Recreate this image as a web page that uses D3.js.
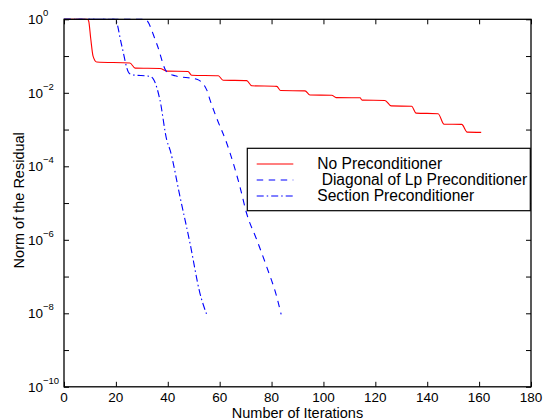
<!DOCTYPE html>
<html>
<head>
<meta charset="utf-8">
<script src="https://cdn.jsdelivr.net/npm/d3@7"></script>
<style>
  body { margin: 0; background: #fff; }
  svg { display: block; font-family: "Liberation Sans", Arial, sans-serif; }
  .legend-label { white-space: pre; }
</style>
</head>
<body>
<div id="wrapper"></div>
<script>
// 1. Data

const noPrecondIter = [0, 9, 9.5, 10.3, 11.2, 12.6, 25.4, 27.4, 37, 39.6, 47.8, 49.2, 59.5,
  61.3, 70.4, 72.4, 82, 83.5, 92.9, 94.8, 103.2, 104.9, 114.1, 114.9, 123.7, 126.1, 134,
  135.7, 144.2, 146.5, 153.3, 155.4, 160.8];
const noPrecondResidual = [1, 1, 0.9, 0.3, 0.1, 0.069, 0.065, 0.047, 0.046, 0.039, 0.038, 0.030, 0.029,
  0.022, 0.0215, 0.0155, 0.015, 0.0115, 0.0113, 0.0087, 0.0086, 0.0074, 0.0073, 0.0063, 0.0062, 0.0044, 0.0043,
  0.0028, 0.0027, 0.0014, 0.00138, 0.00085, 0.00084];

const diagonalIter = [0, 31.2, 35.7, 39.6, 42.8, 51.2, 55, 56.3, 58.9, 62.7, 67.8, 70.4, 74.3,
  78.1, 82, 83.7];
const diagonalResidual = [1, 1, 0.22, 0.037, 0.029, 0.0234, 0.012, 0.0063, 0.002, 4.3e-4, 2.8e-5,
  5.2e-6, 1e-6, 1.86e-7, 2.8e-8, 9.3e-9];

const sectionIter = [0, 19.7, 22.2, 24.8, 26.1, 33.2, 34.7, 37, 39.6, 40.9, 44.7, 48.6, 52.4, 55];
const sectionResidual = [1, 1, 0.2, 0.037, 0.031, 0.028, 0.022, 0.0063, 5.2e-4, 2.75e-4, 1.5e-5,
  7.9e-7, 3.5e-8, 9.3e-9];

const xTicks = [0, 20, 40, 60, 80, 100, 120, 140, 160, 180];
const yTickExponents = [0, -1, -2, -3, -4, -5, -6, -7, -8, -9, -10];
const yLabelExponents = [0, -2, -4, -6, -8, -10];

const seriesNames = ["No Preconditioner", " Diagonal of Lp Preconditioner", "Section Preconditioner"];

// 2. Dimensions

const dimensions = {
  width: 548,
  height: 419,
  margin: { top: 19.3, right: 17, bottom: 32.2, left: 64 },
};
dimensions.boundedWidth = dimensions.width - dimensions.margin.left - dimensions.margin.right;
dimensions.boundedHeight = dimensions.height - dimensions.margin.top - dimensions.margin.bottom;

// 3. Canvas

const wrapper = d3.select("#wrapper")
  .append("svg")
    .attr("width", dimensions.width)
    .attr("height", dimensions.height);

const bounds = wrapper.append("g")
  .attr("transform", `translate(${dimensions.margin.left},${dimensions.margin.top})`);

// 4. Scales

const xScale = d3.scaleLinear()
  .domain([0, 180])
  .range([0, dimensions.boundedWidth]);

const yScale = d3.scaleLog()
  .domain([1e-10, 1])
  .range([dimensions.boundedHeight, 0]);

// 5. Draw data

const series = [
  { name: seriesNames[0], x: noPrecondIter, y: noPrecondResidual, color: "#ff0000", dash: null },
  { name: seriesNames[1], x: diagonalIter, y: diagonalResidual, color: "#0000ff", dash: "6.5,5.5" },
  { name: seriesNames[2], x: sectionIter, y: sectionResidual, color: "#0000ff", dash: "7,3,1.5,3" },
];

const lineGenerator = d3.line()
  .x(d => xScale(d[0]))
  .y(d => yScale(d[1]))
  .curve(d3.curveMonotoneX);

bounds.selectAll(".series")
  .data(series)
  .join("path")
    .attr("class", "series")
    .attr("d", s => lineGenerator(d3.zip(s.x, s.y)))
    .attr("fill", "none")
    .attr("stroke", s => s.color)
    .attr("stroke-width", 1.1)
    .attr("stroke-dasharray", s => s.dash);

// 6. Axes (ticks point inward, box on all four sides)

const tickLen = 5;
const yTickValues = yTickExponents.map(e => Math.pow(10, e));

const styleAxis = g => {
  g.select(".domain").remove();
  g.selectAll(".tick line").attr("stroke", "#000").attr("stroke-width", 1);
  g.selectAll(".tick text").remove();
};

bounds.append("g")
  .attr("transform", `translate(0,${dimensions.boundedHeight})`)
  .call(d3.axisBottom(xScale).tickValues(xTicks).tickSize(-tickLen))
  .call(styleAxis);
bounds.append("g")
  .call(d3.axisTop(xScale).tickValues(xTicks).tickSize(-tickLen))
  .call(styleAxis);
bounds.append("g")
  .call(d3.axisLeft(yScale).tickValues(yTickValues).tickSize(-tickLen))
  .call(styleAxis);
bounds.append("g")
  .attr("transform", `translate(${dimensions.boundedWidth},0)`)
  .call(d3.axisRight(yScale).tickValues(yTickValues).tickSize(-tickLen))
  .call(styleAxis);

bounds.append("rect")
  .attr("width", dimensions.boundedWidth)
  .attr("height", dimensions.boundedHeight)
  .attr("fill", "none")
  .attr("stroke", "#000")
  .attr("stroke-width", 1.3);

// tick labels
bounds.selectAll(".x-label")
  .data(xTicks)
  .join("text")
    .attr("class", "x-label")
    .attr("x", d => xScale(d))
    .attr("y", dimensions.boundedHeight + 15)
    .attr("text-anchor", "middle")
    .style("font-size", "13.5px")
    .text(d => d);

const yLabels = bounds.selectAll(".y-label")
  .data(yLabelExponents)
  .join("text")
    .attr("class", "y-label")
    .attr("x", -36)
    .attr("y", d => yScale(Math.pow(10, d)) + 5)
    .style("font-size", "13.5px");
yLabels.append("tspan").text("10");
yLabels.append("tspan")
  .attr("dy", -8)
  .style("font-size", "9.5px")
  .text(d => d === 0 ? "0" : `\u2212${-d}`);

// axis titles
wrapper.append("text")
  .attr("x", dimensions.margin.left + dimensions.boundedWidth / 2)
  .attr("y", 417.5)
  .attr("text-anchor", "middle")
  .style("font-size", "14.5px")
  .text("Number of Iterations");

wrapper.append("text")
  .attr("transform", `translate(24,${dimensions.margin.top + 181}) rotate(-90)`)
  .attr("text-anchor", "middle")
  .style("font-size", "14.5px")
  .text("Norm of the Residual");

// 7. Legend

const legend = wrapper.append("g")
  .attr("transform", "translate(247.3,148.3)");

legend.append("rect")
  .attr("width", 283)
  .attr("height", 62.4)
  .attr("fill", "#fff")
  .attr("stroke", "#000")
  .attr("stroke-width", 1.2);

const legendItems = legend.selectAll(".legend-item")
  .data(series)
  .join("g")
    .attr("class", "legend-item")
    .attr("transform", (d, i) => `translate(0,${15.7 + i * 16})`);

legendItems.append("line")
  .attr("x1", 9.4)
  .attr("x2", 46)
  .attr("stroke", d => d.color)
  .attr("stroke-width", 1.1)
  .attr("stroke-dasharray", d => d.dash);

legendItems.append("text")
  .attr("class", "legend-label")
  .attr("x", 70)
  .attr("y", 5.3)
  .style("font-size", "15.6px")
  .text(d => d.name);
</script>
</body>
</html>
